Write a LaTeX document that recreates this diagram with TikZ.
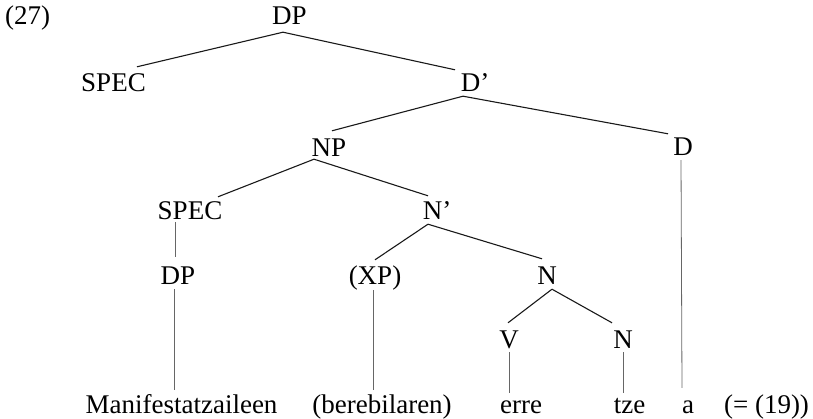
\documentclass[tikz,border=0pt]{standalone}
\usepackage{fontspec}
\setmainfont{Liberation Serif}
\usetikzlibrary{calc}
\tikzset{
  lbl/.style={font=\fontsize{27}{32}\selectfont, inner sep=0pt, text height=18pt, text depth=0pt, anchor=base},
  br/.style={line width=1.1pt, black!90},
  vt/.style={line width=0.8pt, black!60}
}
\begin{document}
\begin{tikzpicture}[x=1pt,y=-1pt]
\useasboundingbox (0,0) rectangle (813,419);
% labels
\node[lbl, anchor=base west] (ex) at (5,25) {(27)};
\node[lbl] (DP) at (289.5,25) {DP};
\node[lbl] (SPECa) at (113.5,92) {SPEC};
\node[lbl] (Dbar) at (475,92) {D’};
\node[lbl] (NP) at (329,157) {NP};
\node[lbl] (D) at (683,156) {D};
\node[lbl] (SPECb) at (190,220) {SPEC};
\node[lbl] (Nbar) at (437,220) {N’};
\node[lbl] (DPb) at (178,285) {DP};
\node[lbl] (XP) at (375,285) {(XP)};
\node[lbl] (Na) at (547,285) {N};
\node[lbl] (V) at (509,348) {V};
\node[lbl] (Nb) at (623,348) {N};
\node[lbl] (manif) at (181.5,413) {Manifestatzaileen};
\node[lbl] (bereb) at (382,413) {(berebilaren)};
\node[lbl] (erre) at (521,413) {erre};
\node[lbl] (tze) at (629.5,413) {tze};
\node[lbl] (a) at (688,413) {a};
\node[lbl] (eq) at (766.5,413) {(= (19))};
% branches
\draw[br] ($(DP.south)+(-6.5,7)$) -- ($(SPECa.north)+(23.5,-7)$);
\draw[br] ($(DP.south)+(-6.5,7)$) -- ($(Dbar.north)+(-20,-4)$);
\draw[br] ($(Dbar.south)+(-12,4)$) -- ($(NP.north)+(3,-8)$);
\draw[br] ($(Dbar.south)+(-12,4)$) -- ($(D.north)+(-15,-4)$);
\draw[br] ($(NP.south)+(-15,2)$) -- ($(SPECb.north)+(28,-5)$);
\draw[br] ($(NP.south)+(-15,2)$) -- ($(Nbar.north)+(-9,-6)$);
\draw[vt] ($(SPECb.south)+(-15,2)$) -- ($(DPb.north)+(-3,-10)$);
\draw[br] ($(Nbar.south)+(-9,4)$) -- ($(XP.north)+(0,-7)$);
\draw[br] ($(Nbar.south)+(-9,4)$) -- ($(Na.north)+(-5,-8)$);
\draw[br] ($(Na.south)+(5,4)$) -- ($(V.north)+(-1,-7)$);
\draw[br] ($(Na.south)+(5,4)$) -- ($(Nb.north)+(-11,-7)$);
\draw[vt] ($(DPb.south)+(-4,4)$) -- ($(manif.north)+(-7.5,-5)$);
\draw[vt] ($(XP.south)+(-2,5)$) -- ($(bereb.north)+(-9,-5)$);
\draw[vt] ($(V.south)+(0,4)$) -- ($(erre.north)+(-12,-2)$);
\draw[vt] ($(Nb.south)+(0,4)$) -- ($(tze.north)+(-6.5,-2)$);
\draw[vt] ($(D.south)+(-2,4)$) -- ($(a.north)+(-6,-7)$);
\end{tikzpicture}
\end{document}
